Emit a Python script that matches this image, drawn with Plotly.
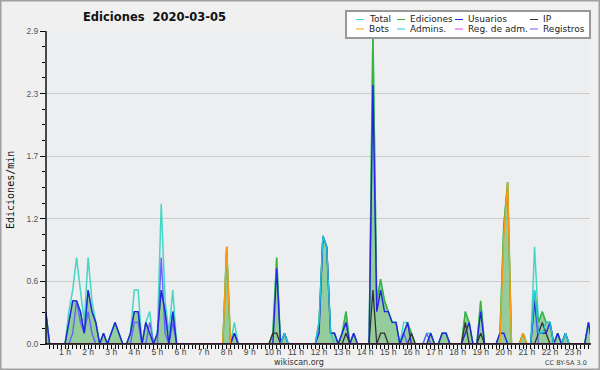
import plotly.graph_objects as go

# ---------------- data (10-minute slots of 2020-03-05, edits per minute) ----------------
slots = list(range(144))
hour_ticks = list(range(1, 24))
hour_labels = [f"{h} h" for h in hour_ticks]
y_tick_vals = [0, 0.58, 1.16, 1.74, 2.32, 2.9]
y_tick_text = ["0.0", "0.6", "1.2", "1.7", "2.3", "2.9"]
y_minor_vals = [0.145, 0.29, 0.435, 0.725, 0.87, 1.015, 1.305, 1.45, 1.595,
                1.885, 2.03, 2.175, 2.465, 2.61, 2.755]

total = {1: .3, 7: .3, 8: .5, 9: .8, 10: .5, 11: .2, 12: .8, 13: .4, 14: .2, 16: .1,
         18: .1, 19: .2, 20: .1, 23: .1, 24: .5, 25: .5, 27: .2, 28: .3, 30: .1, 31: 1.3,
         32: .4, 33: .1, 34: .5, 48: .9, 50: .2, 60: .1, 61: .8, 63: .1, 72: .2, 73: 1.0,
         74: .9, 75: .1, 76: .1, 78: .1, 79: .3, 81: .1, 86: 2.9, 87: .4, 88: .6, 89: .4,
         90: .3, 91: .2, 92: .2, 94: .2, 95: .2, 96: .1, 100: .1, 101: .1, 104: .1, 105: .1,
         110: .3, 111: .2, 114: .4, 119: .1, 120: 1.1, 121: 1.5, 125: .1, 128: .9, 129: .2,
         130: .3, 131: .2, 132: .2, 134: .1, 136: .1, 142: .2}
ediciones = {1: .3, 7: .2, 8: .4, 9: .4, 10: .3, 11: .1, 12: .5, 13: .3, 14: .2, 16: .1,
             18: .1, 19: .2, 20: .1, 23: .1, 24: .3, 25: .3, 27: .2, 28: .1, 30: .1, 31: .5,
             32: .3, 34: .3, 48: .9, 50: .1, 60: .1, 61: .8, 63: .1, 72: .2, 73: 1.0, 74: .9,
             75: .1, 76: .1, 78: .1, 79: .3, 81: .1, 86: 2.9, 87: .4, 88: .6, 89: .4, 90: .3,
             91: .2, 92: .2, 94: .1, 95: .2, 96: .1, 101: .1, 104: .1, 105: .1, 110: .3,
             111: .2, 114: .4, 119: .1, 120: 1.1, 121: 1.5, 125: .1, 128: .5, 129: .2,
             130: .3, 131: .2, 132: .2, 134: .1, 136: .1, 142: .2}
usuarios = {1: .3, 7: .2, 8: .4, 9: .4, 10: .3, 11: .1, 12: .5, 13: .3, 14: .2, 16: .1,
            18: .1, 19: .2, 20: .1, 23: .1, 24: .3, 25: .3, 27: .2, 28: .1, 30: .1, 31: .5,
            32: .3, 34: .3, 50: .1, 61: .7, 63: .1, 72: .1, 73: 1.0, 74: .9, 75: .1, 76: .1,
            78: .1, 79: .2, 81: .1, 86: 2.4, 87: .3, 88: .5, 89: .3, 90: .3, 91: .2, 92: .2,
            94: .1, 95: .2, 101: .1, 104: .1, 105: .1, 110: .1, 111: .2, 114: .3, 119: .1,
            120: .1, 128: .4, 129: .1, 130: .1, 131: .1, 132: .2, 134: .1, 136: .1, 142: .2}
ip = {60: .1, 61: .1, 79: .1, 86: .5, 88: .1, 89: .1, 96: .1, 110: .2, 114: .1,
      129: .1, 130: .2, 131: .1}
bots = {48: .9, 120: 1.0, 121: 1.5, 125: .1}
admins = {63: .1, 72: .2, 73: 1.0, 74: .9, 75: .1, 128: .5, 129: .1, 130: .1, 131: .2,
          132: .2, 136: .1}
reg_adm = {}
registros = {8: .1, 9: .4, 10: .2, 11: .1, 12: .3, 13: .1, 24: .2, 25: .2, 28: .2,
             31: .8, 32: .1, 34: .2, 50: .1, 94: .1, 100: .1, 128: .4}


def series(d):
    return [d.get(i, 0) for i in slots]


# ---------------- geometry helpers (pixel -> paper) ----------------
L, R, T, B = 46, 590, 31, 344
W, H = R - L, B - T


def px(x):
    return (x - L) / W


def py(y):
    return (B - y) / H


COL_TOTAL = "#46d6c6"
COL_ED = "#3cb43c"
COL_USU = "#2424e6"
COL_IP = "#333333"
COL_BOTS = "#ff9a10"
COL_ADM = "#25c6dc"
COL_REGADM = "#e040e0"
COL_REG = "#6464ff"

fig = go.Figure()


def line_trace(d, color, width=1.4, **kw):
    fig.add_trace(go.Scatter(x=slots, y=series(d), mode="lines",
                             line=dict(color=color, width=width),
                             hoverinfo="skip", showlegend=False, **kw))


line_trace(total, COL_TOTAL, 1.5)
line_trace(ediciones, COL_ED, 1.4, fill="tozeroy", fillcolor="rgba(60,170,70,0.5)")
line_trace(registros, COL_REG, 1.4)
line_trace(usuarios, COL_USU, 1.4)
line_trace(ip, COL_IP, 1.3)
line_trace(admins, COL_ADM, 1.3)
line_trace(bots, COL_BOTS, 1.4)
line_trace(reg_adm, COL_REGADM, 1.3)

shapes = []
# axis lines drawn above traces
shapes.append(dict(type="line", xref="paper", yref="paper", x0=px(45), x1=px(591),
                   y0=0, y1=0, line=dict(color="black", width=1.6), layer="above"))
shapes.append(dict(type="line", xref="paper", yref="paper", x0=0, x1=0,
                   y0=py(344.5), y1=1, line=dict(color="black", width=1.4), layer="above"))
# outer frame
shapes.append(dict(type="rect", xref="paper", yref="paper", x0=px(0.75), x1=px(599.25),
                   y0=py(369.25), y1=py(0.75), line=dict(color="#a0a0a0", width=1.5),
                   layer="above"))
# legend box
shapes.append(dict(type="rect", xref="paper", yref="paper", x0=px(346), x1=px(590),
                   y0=py(38), y1=py(11), line=dict(color="#999999", width=2),
                   fillcolor="white", layer="above"))

legend_items = [
    ("Total", COL_TOTAL, 356, 19.5), ("Ediciones", COL_ED, 397, 19.5),
    ("Usuarios", COL_USU, 455, 19.5), ("IP", COL_IP, 530, 19.5),
    ("Bots", COL_BOTS, 356, 29.0), ("Admins.", COL_ADM, 397, 29.0),
    ("Reg. de adm.", COL_REGADM, 455, 29.0), ("Registros", COL_REG, 530, 29.0),
]
annotations = []
for name, col, x0, yy in legend_items:
    shapes.append(dict(type="line", xref="paper", yref="paper", x0=px(x0), x1=px(x0 + 8),
                       y0=py(yy), y1=py(yy), line=dict(color=col, width=1), layer="above"))
    annotations.append(dict(text=name, xref="paper", yref="paper", x=px(x0 + 11), y=py(yy),
                            xanchor="left", yanchor="middle", showarrow=False,
                            font=dict(family="DejaVu Sans", size=9, color="#222")))

annotations += [
    dict(text="<b>Ediciones  2020-03-05</b>", xref="paper", yref="paper", x=px(154),
         y=py(17), xanchor="center", yanchor="middle", showarrow=False,
         font=dict(family="DejaVu Sans", size=11.5, color="#111")),
    dict(text="Ediciones/min", xref="paper", yref="paper", x=px(10), y=py(190),
         xanchor="center", yanchor="middle", textangle=-90, showarrow=False,
         font=dict(family="DejaVu Sans Mono", size=10, color="#111")),
    dict(text="wikiscan.org", xref="paper", yref="paper", x=px(299), y=py(362.5),
         xanchor="center", yanchor="middle", showarrow=False,
         font=dict(family="DejaVu Sans", size=8, color="#333")),
    dict(text="CC BY-SA 3.0", xref="paper", yref="paper", x=px(589), y=py(363),
         xanchor="right", yanchor="middle", showarrow=False,
         font=dict(family="DejaVu Sans", size=6.5, color="#444")),
]

fig.update_layout(
    width=600, height=370,
    margin=dict(l=L, r=600 - R, t=T, b=370 - B, pad=0),
    paper_bgcolor="#f0f0f0", plot_bgcolor="#eceef0",
    shapes=shapes, annotations=annotations, showlegend=False,
    font=dict(family="Liberation Sans", size=8.5, color="#444"),
)
fig.update_xaxes(
    range=[1.06, 142.4], tickmode="array",
    tickvals=[h * 6 for h in hour_ticks], ticktext=hour_labels,
    ticks="outside", ticklen=4, tickwidth=1, tickcolor="black",
    tickfont=dict(family="Liberation Sans", size=8.5, color="#444"),
    ticklabelstandoff=-4,
    showgrid=False, zeroline=False, showline=False,
    minor=dict(tickmode="array", tickvals=slots, ticks="outside", ticklen=4,
               tickcolor="black", tickwidth=1, showgrid=False),
)
fig.update_yaxes(
    range=[0, 2.9], tickmode="array", tickvals=y_tick_vals, ticktext=y_tick_text,
    ticks="outside", ticklen=5, tickwidth=1, tickcolor="black",
    tickfont=dict(family="Liberation Sans", size=8.5, color="#555"),
    showgrid=True, gridcolor="#cccccc", gridwidth=1, zeroline=False, showline=False,
    minor=dict(tickmode="array", tickvals=y_minor_vals, ticks="outside", ticklen=3,
               tickcolor="black", tickwidth=1, showgrid=False),
)

fig.write_html("out.html")
